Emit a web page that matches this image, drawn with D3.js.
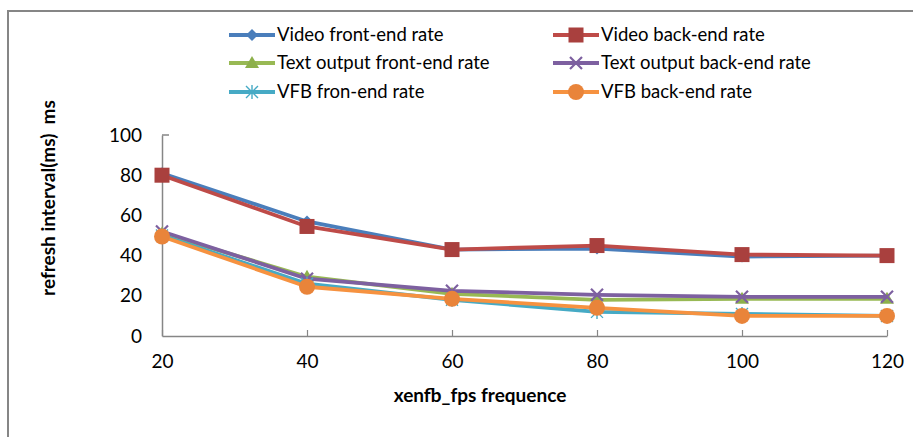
<!DOCTYPE html>
<html>
<head>
<meta charset="utf-8">
<script src="https://cdn.jsdelivr.net/npm/d3@7"></script>
<style>
  html, body { margin: 0; padding: 0; background: #fff; }
  svg { display: block; font-family: Lato, "Open Sans", sans-serif; }
</style>
</head>
<body>
<svg id="chart" width="913" height="437"></svg>
<script>
// x categories (xenfb_fps)
const fpsValues = [20, 40, 60, 80, 100, 120];
const yTicks = [0, 20, 40, 60, 80, 100];

// refresh interval in ms for each series
const videoFront = [81, 57, 43, 43.5, 39.5, 40];
const videoBack  = [80, 54.5, 43, 45, 40.5, 40];
const textFront  = [51, 29.5, 21, 18, 18.5, 18.5];
const textBack   = [52, 28.5, 22.5, 20.5, 19.5, 19.5];
const vfbFront   = [50, 26, 18, 12, 11, 10];
const vfbBack    = [49.5, 24.5, 18.5, 14, 10, 10];

const seriesNames = [
  "Video front-end rate", "Video back-end rate",
  "Text output front-end rate", "Text output back-end rate",
  "VFB fron-end rate", "VFB back-end rate"
];

const series = [
  { name: seriesNames[0], values: videoFront, color: "#4A7EBB", fill: "#4A7EBB", marker: "diamond" },
  { name: seriesNames[1], values: videoBack,  color: "#BE4B48", fill: "#A9403E", marker: "square" },
  { name: seriesNames[2], values: textFront,  color: "#98B954", fill: "#8DB04B", marker: "triangle" },
  { name: seriesNames[3], values: textBack,   color: "#7D60A0", fill: "#7D60A0", marker: "x" },
  { name: seriesNames[4], values: vfbFront,   color: "#46AAC5", fill: "#46AAC5", marker: "star" },
  { name: seriesNames[5], values: vfbBack,    color: "#F69240", fill: "#E9843A", marker: "circle" }
];

const svg = d3.select("#chart");
svg.append("rect").attr("width", 913).attr("height", 437).attr("fill", "#fff");

// chart-area frame
svg.append("path")
  .attr("d", "M8,440 V11 H920")
  .attr("fill", "none").attr("stroke", "#868686").attr("stroke-width", 2);

const x = d3.scalePoint().domain(fpsValues).range([162, 887]);
const y = d3.scaleLinear().domain([0, 100]).range([336, 135]);

const axisColor = "#868686";
const textColor = "#000";

// y axis
const gy = svg.append("g").attr("transform", "translate(162,0)")
  .call(d3.axisLeft(y).tickValues(yTicks).tickSize(0).tickPadding(20));
gy.select(".domain").attr("stroke", axisColor).attr("stroke-width", 1.5);
gy.selectAll("text").attr("font-size", 19).attr("fill", textColor)
  .attr("font-family", "Lato, sans-serif");
svg.append("line").attr("x1", 162).attr("x2", 169)
  .attr("y1", y(100)).attr("y2", y(100))
  .attr("stroke", axisColor).attr("stroke-width", 1.5);

// x axis
const gx = svg.append("g").attr("transform", "translate(0,336)")
  .call(d3.axisBottom(x).tickSizeInner(-6).tickSizeOuter(0).tickPadding(19));
gx.select(".domain").attr("stroke", axisColor).attr("stroke-width", 1.5);
gx.selectAll(".tick line").attr("stroke", axisColor).attr("stroke-width", 1.2);
gx.selectAll("text").attr("font-size", 19).attr("fill", textColor)
  .attr("font-family", "Lato, sans-serif");

// axis titles
svg.append("text")
  .attr("x", 480).attr("y", 402)
  .attr("text-anchor", "middle")
  .attr("font-size", 19).attr("font-weight", "bold")
  .text("xenfb_fps frequence");

svg.append("text")
  .attr("transform", "translate(55,198) rotate(-90)")
  .attr("text-anchor", "middle")
  .attr("font-size", 19).attr("font-weight", "bold")
  .text("refresh interval(ms)  ms")
  .style("white-space", "pre");

// marker shapes
function drawMarker(g, type, cx, cy, s) {
  if (type === "diamond") {
    g.append("path").attr("d", `M${cx},${cy - 6}L${cx + 6},${cy}L${cx},${cy + 6}L${cx - 6},${cy}Z`)
      .attr("fill", s.fill);
  } else if (type === "square") {
    g.append("rect").attr("x", cx - 7.5).attr("y", cy - 7.5).attr("width", 15).attr("height", 15)
      .attr("fill", s.fill);
  } else if (type === "triangle") {
    g.append("path").attr("d", `M${cx},${cy - 7}L${cx + 7},${cy + 5}L${cx - 7},${cy + 5}Z`)
      .attr("fill", s.fill);
  } else if (type === "x") {
    g.append("path").attr("d", `M${cx - 6},${cy - 6}L${cx + 6},${cy + 6}M${cx + 6},${cy - 6}L${cx - 6},${cy + 6}`)
      .attr("stroke", s.fill).attr("stroke-width", 2.2);
  } else if (type === "star") {
    g.append("path").attr("d", `M${cx - 6},${cy - 6}L${cx + 6},${cy + 6}M${cx + 6},${cy - 6}L${cx - 6},${cy + 6}M${cx},${cy - 7}L${cx},${cy + 7}`)
      .attr("stroke", s.fill).attr("stroke-width", 1.4);
  } else if (type === "circle") {
    g.append("circle").attr("cx", cx).attr("cy", cy).attr("r", 8).attr("fill", s.fill);
  }
}

const line = d3.line().x((d, i) => x(fpsValues[i])).y(d => y(d));

series.forEach(s => {
  const g = svg.append("g");
  g.append("path").datum(s.values).attr("d", line)
    .attr("fill", "none").attr("stroke", s.color).attr("stroke-width", 3.8)
    .attr("stroke-linejoin", "round");
  s.values.forEach((v, i) => drawMarker(g, s.marker, x(fpsValues[i]), y(v), s));
});

// legend
const legendCols = [229, 553];
const legendRows = [35, 63, 92];
series.forEach((s, i) => {
  const lx = legendCols[i % 2];
  const ly = legendRows[Math.floor(i / 2)];
  const g = svg.append("g");
  g.append("line").attr("x1", lx).attr("x2", lx + 46).attr("y1", ly).attr("y2", ly)
    .attr("stroke", s.color).attr("stroke-width", 3.8);
  drawMarker(g, s.marker, lx + 23, ly, s);
  g.append("text").attr("x", lx + 48).attr("y", ly).attr("dy", "0.35em")
    .attr("font-size", 18.5).attr("fill", textColor).text(s.name);
});
</script>
</body>
</html>
